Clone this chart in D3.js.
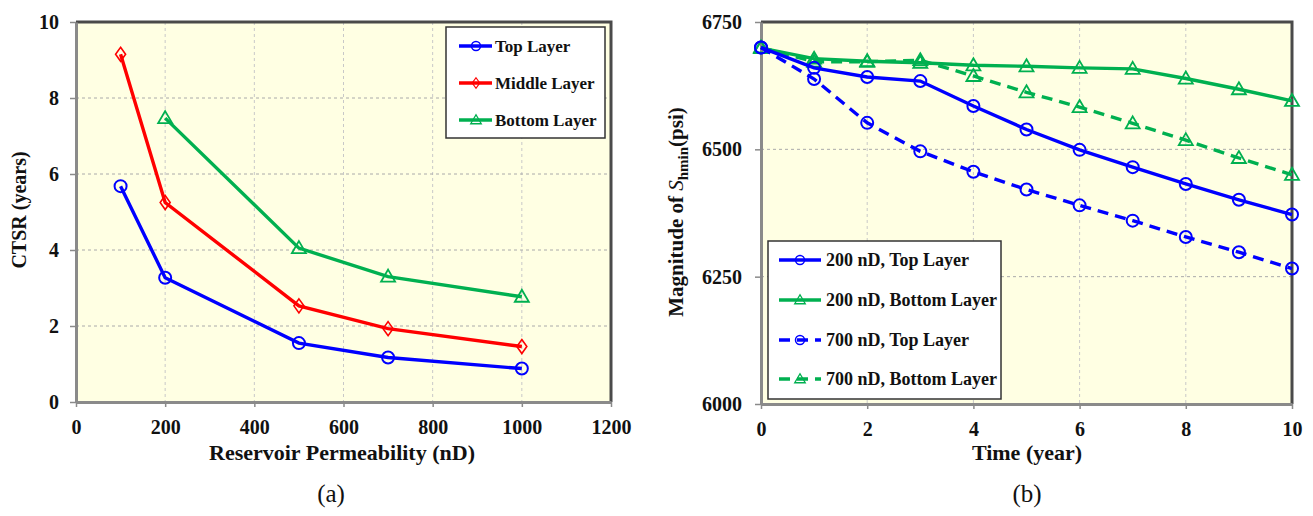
<!DOCTYPE html>
<html><head><meta charset="utf-8">
<script src="https://cdn.jsdelivr.net/npm/d3@7"></script>
<style>
body{margin:0;background:#fff;}
svg text{font-family:"Liberation Serif","LiberationSerif","Times New Roman",Times,Tinos,"DejaVu Serif","Noto Serif",serif !important;}
</style></head>
<body><svg id="c" width="1313" height="516"></svg>
<script>
// ---- Data (a) ----
const permeability = [100, 200, 500, 700, 1000];
const ctsrTop = [5.68, 3.27, 1.55, 1.17, 0.88];
const ctsrMiddle = [9.15, 5.25, 2.53, 1.93, 1.46];
const permeabilityBottom = [200, 500, 700, 1000];
const ctsrBottom = [7.47, 4.05, 3.30, 2.77];
const xTicksA = [0, 200, 400, 600, 800, 1000, 1200];
const yTicksA = [0, 2, 4, 6, 8, 10];

// ---- Data (b) ----
const years = [0, 1, 2, 3, 4, 5, 6, 7, 8, 9, 10];
const s200Top = [6700, 6660, 6642, 6634, 6585, 6539, 6499, 6465, 6432, 6401, 6372];
const s200Bottom = [6699, 6678, 6673, 6670, 6665, 6663, 6660, 6658, 6639, 6618, 6595];
const s700Top = [6700, 6638, 6552, 6496, 6456, 6421, 6390, 6360, 6328, 6298, 6266];
const s700Bottom = [6700, 6672, 6672, 6675, 6644, 6612, 6583, 6551, 6518, 6483, 6450];
const xTicksB = [0, 2, 4, 6, 8, 10];
const yTicksB = [6000, 6250, 6500, 6750];

const BLUE = "#0000ff", RED = "#ff0000", GREEN = "#00b050";
const BG = "#ffffe3";
const svg = d3.select("#c");

function marker(g, type, x, y, color) {
  if (type === "circle") {
    g.append("circle").attr("cx", x).attr("cy", y).attr("r", 6)
      .attr("fill", "none").attr("stroke", color).attr("stroke-width", 2);
  } else if (type === "diamond") {
    g.append("path").attr("transform", `translate(${x},${y})`)
      .attr("d", "M0,-7L5,0L0,7L-5,0Z")
      .attr("fill", "none").attr("stroke", color).attr("stroke-width", 1.6);
  } else {
    g.append("path").attr("transform", `translate(${x},${y})`)
      .attr("d", "M0,-7L7,5L-7,5Z")
      .attr("fill", "none").attr("stroke", color).attr("stroke-width", 1.8);
  }
}

function panel(opt) {
  const {x0, x1, y0, y1, xDom, yDom, xTicks, yTicks, gridX, gridY} = opt;
  const x = d3.scaleLinear().domain(xDom).range([x0, x1]);
  const y = d3.scaleLinear().domain(yDom).range([y1, y0]);
  const g = svg.append("g");
  g.append("rect").attr("x", x0).attr("y", y0).attr("width", x1 - x0).attr("height", y1 - y0)
    .attr("fill", BG);
  g.selectAll(".gx").data(gridX).enter().append("line")
    .attr("x1", d => x(d)).attr("x2", d => x(d)).attr("y1", y0).attr("y2", y1)
    .attr("stroke", "#c8c8c8").attr("stroke-width", 1).attr("stroke-dasharray", "3,3");
  g.selectAll(".gy").data(gridY).enter().append("line")
    .attr("y1", d => y(d)).attr("y2", d => y(d)).attr("x1", x0).attr("x2", x1)
    .attr("stroke", "#aaaaaa").attr("stroke-width", 1).attr("stroke-dasharray", "3,3");
  g.append("path").attr("d", `M${x0},${y0}L${x1},${y0}L${x1},${y1}`)
    .attr("fill", "none").attr("stroke", "#4a4a4a").attr("stroke-width", 3);
  const ax = g.append("g").attr("transform", `translate(0,${y1})`)
    .call(d3.axisBottom(x).tickValues(xTicks).tickSize(5).tickPadding(13).tickSizeOuter(0).tickFormat(d3.format("d")));
  const ay = g.append("g").attr("transform", `translate(${x0},0)`)
    .call(d3.axisLeft(y).tickValues(yTicks).tickSize(6).tickPadding(opt.yPad).tickSizeOuter(0).tickFormat(d3.format("d")));
  [ax, ay].forEach(a => {
    a.attr("font-family", null);
    a.select(".domain").attr("stroke", "#8a8a8a").attr("stroke-width", 3);
    a.selectAll(".tick line").attr("stroke", "#8a8a8a").attr("stroke-width", 1.5);
    a.selectAll(".tick text").attr("font-weight", "bold")
      .attr("font-size", 20).attr("fill", "#111");
  });
  return {x, y, g};
}

function series(p, xs, ys, color, type, dash) {
  const line = d3.line().x((d, i) => p.x(xs[i])).y(d => p.y(d));
  p.g.append("path").datum(ys).attr("d", line).attr("fill", "none")
    .attr("stroke", color).attr("stroke-width", 3.4)
    .attr("stroke-dasharray", dash ? "11,7" : null);
  ys.forEach((v, i) => marker(p.g, type, p.x(xs[i]), p.y(v), color));
}

// ===== Panel (a) =====
const A = panel({x0: 76, x1: 611, y0: 22, y1: 402, xDom: [0, 1200], yDom: [0, 10],
  xTicks: xTicksA, yTicks: yTicksA, gridX: [200, 400, 600, 800, 1000], gridY: [2, 4, 6, 8], yPad: 11});
series(A, permeabilityBottom, ctsrBottom, GREEN, "triangle", false);
series(A, permeability, ctsrMiddle, RED, "diamond", false);
series(A, permeability, ctsrTop, BLUE, "circle", false);

const legA = svg.append("g");
legA.append("rect").attr("x", 446).attr("y", 27).attr("width", 159).attr("height", 111)
  .attr("fill", "#fff").attr("stroke", "#333").attr("stroke-width", 1.5);
[["Top Layer", BLUE, "circle", 46], ["Middle Layer", RED, "diamond", 83], ["Bottom Layer", GREEN, "triangle", 120]]
  .forEach(([t, c, m, yy]) => {
    legA.append("line").attr("x1", 459).attr("x2", 492).attr("y1", yy).attr("y2", yy)
      .attr("stroke", c).attr("stroke-width", 3.4);
    const mg = legA.append("g").attr("transform", `translate(476,${yy}) scale(0.75) translate(-476,${-yy})`);
    marker(mg, m, 476, yy, c);
    legA.append("text").attr("x", 495).attr("y", yy).attr("dy", "0.33em")
      .attr("font-size", 17).attr("font-weight", "bold").attr("fill", "#111").text(t);
  });

svg.append("text").attr("x", 342).attr("y", 452).attr("dy", "0.35em").attr("text-anchor", "middle")
  .attr("font-size", 22).attr("font-weight", "bold").attr("fill", "#111").text("Reservoir Permeability (nD)");
svg.append("text").attr("transform", "translate(19,210) rotate(-90)").attr("dy", "0.35em")
  .attr("text-anchor", "middle").attr("font-size", 20).attr("font-weight", "bold").attr("fill", "#111")
  .text("CTSR (years)");
svg.append("text").attr("x", 331).attr("y", 493).attr("dy", "0.35em").attr("text-anchor", "middle")
  .attr("font-size", 25).attr("fill", "#111").text("(a)");

// ===== Panel (b) =====
const B = panel({x0: 761, x1: 1292, y0: 22, y1: 404, xDom: [0, 10], yDom: [6000, 6750],
  xTicks: xTicksB, yTicks: yTicksB, gridX: [2, 4, 6, 8], gridY: [6250, 6500], yPad: 13});
series(B, years, s700Bottom, GREEN, "triangle", true);
series(B, years, s200Bottom, GREEN, "triangle", false);
series(B, years, s700Top, BLUE, "circle", true);
series(B, years, s200Top, BLUE, "circle", false);

const legB = svg.append("g");
legB.append("rect").attr("x", 768).attr("y", 241).attr("width", 233).attr("height", 158)
  .attr("fill", "#fff").attr("stroke", "#333").attr("stroke-width", 1.5);
[["200 nD, Top Layer", BLUE, "circle", false, 260], ["200 nD, Bottom Layer", GREEN, "triangle", false, 300],
 ["700 nD, Top Layer", BLUE, "circle", true, 340], ["700 nD, Bottom Layer", GREEN, "triangle", true, 379]]
  .forEach(([t, c, m, dash, yy]) => {
    legB.append("line").attr("x1", 779).attr("x2", 821).attr("y1", yy).attr("y2", yy)
      .attr("stroke", c).attr("stroke-width", 3.4).attr("stroke-dasharray", dash ? "11,7" : null);
    const mg = legB.append("g").attr("transform", `translate(800,${yy}) scale(0.75) translate(-800,${-yy})`);
    marker(mg, m, 800, yy, c);
    legB.append("text").attr("x", 826).attr("y", yy).attr("dy", "0.33em")
      .attr("font-size", 18).attr("font-weight", "bold").attr("fill", "#111").text(t);
  });

svg.append("text").attr("x", 1027).attr("y", 452).attr("dy", "0.35em").attr("text-anchor", "middle")
  .attr("font-size", 22).attr("font-weight", "bold").attr("fill", "#111").text("Time (year)");
const ty = svg.append("text").attr("transform", "translate(676,212) rotate(-90)").attr("dy", "0.35em")
  .attr("text-anchor", "middle").attr("font-size", 21).attr("font-weight", "bold").attr("fill", "#111");
ty.append("tspan").text("Magnitude of ");
ty.append("tspan").attr("font-style", "italic").attr("font-weight", "normal").text("S");
ty.append("tspan").attr("font-size", 15).attr("dy", "5").text("hmin");
ty.append("tspan").attr("dy", "-5").text("(psi)");
svg.append("text").attr("x", 1027).attr("y", 493).attr("dy", "0.35em").attr("text-anchor", "middle")
  .attr("font-size", 25).attr("fill", "#111").text("(b)");
</script></body></html>
